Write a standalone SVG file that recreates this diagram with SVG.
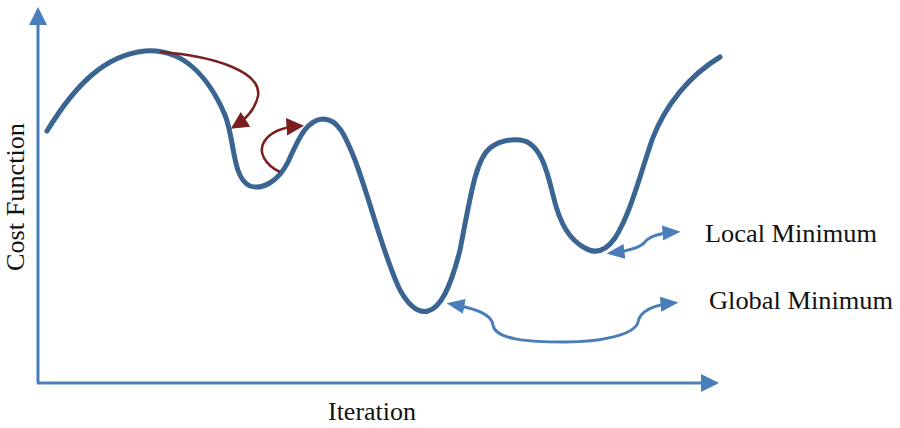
<svg xmlns="http://www.w3.org/2000/svg" width="900" height="428" viewBox="0 0 900 428">
<style>
.axis{stroke:#4A7EBB;stroke-width:3;fill:none}
.curve{stroke:#3A6592;stroke-width:5;fill:none;stroke-linecap:round;stroke-linejoin:round}
.red{stroke:#7A1E1E;stroke-width:2.5;fill:none}
.blue{stroke:#4A7EBB;stroke-width:3;fill:none}
.lbl{font-family:"Liberation Serif","Times New Roman",serif;font-size:25px;fill:#111}
</style>
<defs>
<marker id="axhead" markerWidth="6" markerHeight="6" refX="5" refY="3" orient="auto" markerUnits="strokeWidth"><path d="M0,0 L6,3 L0,6 Z" fill="#4A7EBB"/></marker>
<marker id="redhead" markerWidth="7" markerHeight="7" refX="5" refY="3.5" orient="auto" markerUnits="strokeWidth"><path d="M0,0 L7,3.5 L0,7 Z" fill="#7A1E1E"/></marker>
<marker id="bluehead" markerWidth="6" markerHeight="5" refX="4.5" refY="2.5" orient="auto-start-reverse" markerUnits="strokeWidth"><path d="M0,0 L6,2.5 L0,5 Z" fill="#4A7EBB"/></marker>
</defs>
<g id="axes">
<path class="axis" d="M38,383 L38,10" marker-end="url(#axhead)"/>
<path class="axis" d="M37,383 L716,383" marker-end="url(#axhead)"/>
</g>
<g id="cost-curve">
<path class="curve" d="M47,131 C75,85 105,55 145,51 C185,48 210,80 225,115 C235,140 232,178 250,186 C262,190 278,182 288,162 C297,143 305,120 323,119 C338,119 345,135 355,160 C370,200 385,260 400,290 C410,308 420,313 428,311 C440,308 450,290 460,250 C470,200 475,160 490,148 C500,140 510,139 520,140 C540,142 547,170 553,195 C560,225 570,240 585,248 C595,254 605,252 615,238 C630,215 640,175 652,140 C665,105 690,75 720,57"/>
</g>
<g id="connectors">
<path class="red" d="M160,52 C215,56 262,72 258,96 C255,110 246,119 235,126" marker-end="url(#redhead)"/>
<path class="red" d="M280,172 C265,165 258,152 264,142 C270,132 284,127 299,126" marker-end="url(#redhead)"/>
<path class="blue" d="M611,253 C628,251 640,248 645,242 C650,235 662,233 676,232" marker-start="url(#bluehead)" marker-end="url(#bluehead)"/>
<path class="blue" d="M451,304 C478,309 492,315 493,325 C495,340 530,342 565,342 C600,342 635,335 638,322 C640,312 652,305 674,303" marker-start="url(#bluehead)" marker-end="url(#bluehead)"/>
</g>
<g id="labels">
<text class="lbl" x="705" y="242" textLength="172" lengthAdjust="spacingAndGlyphs">Local Minimum</text>
<text class="lbl" x="709" y="309" textLength="184" lengthAdjust="spacingAndGlyphs">Global Minimum</text>
<text class="lbl" x="328" y="420" textLength="88" lengthAdjust="spacingAndGlyphs">Iteration</text>
<text class="lbl" transform="translate(24,271) rotate(-90)" textLength="148" lengthAdjust="spacingAndGlyphs">Cost Function</text>
</g>
</svg>
